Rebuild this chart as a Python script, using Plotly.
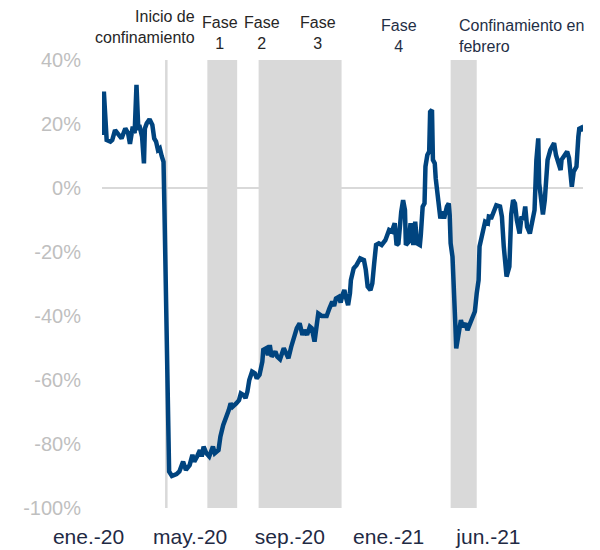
import plotly.graph_objects as go

dates = [
    "2020-01-05", "2020-01-07", "2020-01-10", "2020-01-14", "2020-01-16", "2020-01-19", "2020-01-23",
    "2020-01-26", "2020-01-30", "2020-02-02", "2020-02-04", "2020-02-07", "2020-02-09", "2020-02-11",
    "2020-02-13", "2020-02-14", "2020-02-17", "2020-02-19", "2020-02-20", "2020-02-22", "2020-02-25",
    "2020-02-28", "2020-03-01", "2020-03-03", "2020-03-05", "2020-03-07", "2020-03-09", "2020-03-11",
    "2020-03-12", "2020-03-13", "2020-03-14", "2020-03-15", "2020-03-17", "2020-03-20", "2020-03-25",
    "2020-03-28", "2020-04-01", "2020-04-04", "2020-04-08", "2020-04-11", "2020-04-13", "2020-04-16",
    "2020-04-19", "2020-04-21", "2020-04-23", "2020-04-26", "2020-04-29", "2020-05-03", "2020-05-05",
    "2020-05-09", "2020-05-11", "2020-05-14", "2020-05-17", "2020-05-20", "2020-05-22", "2020-05-24",
    "2020-05-28", "2020-05-31", "2020-06-02", "2020-06-05", "2020-06-07", "2020-06-09", "2020-06-11",
    "2020-06-14", "2020-06-17", "2020-06-19", "2020-06-22", "2020-06-25", "2020-06-26", "2020-06-29",
    "2020-07-01", "2020-07-03", "2020-07-05", "2020-07-09", "2020-07-11", "2020-07-14", "2020-07-18",
    "2020-07-21", "2020-07-23", "2020-07-26", "2020-07-29", "2020-08-01", "2020-08-04", "2020-08-07",
    "2020-08-09", "2020-08-12", "2020-08-15", "2020-08-17", "2020-08-20", "2020-08-22", "2020-08-24",
    "2020-08-28", "2020-09-02", "2020-09-05", "2020-09-08", "2020-09-10", "2020-09-12", "2020-09-15",
    "2020-09-17", "2020-09-19", "2020-09-21", "2020-09-23", "2020-09-25", "2020-09-27", "2020-09-28",
    "2020-10-01", "2020-10-04", "2020-10-08", "2020-10-12", "2020-10-14", "2020-10-16", "2020-10-19",
    "2020-10-21", "2020-10-23", "2020-10-25", "2020-10-28", "2020-10-31", "2020-11-04", "2020-11-06",
    "2020-11-08", "2020-11-11", "2020-11-14", "2020-11-16", "2020-11-18", "2020-11-21", "2020-11-23",
    "2020-11-25", "2020-11-26", "2020-11-29", "2020-12-01", "2020-12-04", "2020-12-06", "2020-12-08",
    "2020-12-11", "2020-12-12", "2020-12-14", "2020-12-16", "2020-12-17", "2020-12-19", "2020-12-21",
    "2020-12-22", "2020-12-24", "2020-12-25", "2020-12-27", "2020-12-28", "2020-12-29", "2020-12-31",
    "2021-01-02", "2021-01-04", "2021-01-06", "2021-01-09", "2021-01-11", "2021-01-12", "2021-01-13",
    "2021-01-15", "2021-01-16", "2021-01-18", "2021-01-19", "2021-01-20", "2021-01-22", "2021-01-24",
    "2021-01-26", "2021-01-29", "2021-01-31", "2021-02-03", "2021-02-06", "2021-02-08", "2021-02-10",
    "2021-02-12", "2021-02-13", "2021-02-16", "2021-02-17", "2021-02-19", "2021-02-22", "2021-02-23",
    "2021-02-26", "2021-02-28", "2021-03-03", "2021-03-07", "2021-03-09", "2021-03-11", "2021-03-13",
    "2021-03-14", "2021-03-17", "2021-03-19", "2021-03-21", "2021-03-23", "2021-03-25", "2021-03-28",
    "2021-03-30", "2021-04-01", "2021-04-03", "2021-04-05", "2021-04-08", "2021-04-11", "2021-04-13",
    "2021-04-15", "2021-04-17", "2021-04-18", "2021-04-20", "2021-04-22", "2021-04-24", "2021-04-26",
    "2021-04-27", "2021-04-30", "2021-05-03", "2021-05-04", "2021-05-06", "2021-05-09", "2021-05-11",
    "2021-05-12", "2021-05-15", "2021-05-18", "2021-05-20", "2021-05-21", "2021-05-23", "2021-05-25",
    "2021-05-28", "2021-05-30", "2021-05-31", "2021-06-02", "2021-06-03",
]

values = [
    16.6, 30.1, 15.0, 14.5, 15.0, 18.1, 16.6,
    15.5, 18.6, 17.1, 13.8, 19.2, 17.1, 32.2,
    18.1, 19.7, 16.0, 7.7, 18.6, 20.2, 21.5,
    19.7, 15.5, 14.5, 11.9, 12.4, 10.0, 8.2,
    -6.9, -27.7, -50.6, -71.5, -88.6, -90.0, -89.4,
    -88.6, -85.5, -88.1, -86.6, -83.4, -85.5, -83.9,
    -81.9, -83.9, -80.8, -82.9, -83.9, -80.8, -82.9,
    -81.9, -77.7, -74.1, -72.0, -69.4, -67.3, -68.4,
    -67.3, -66.3, -64.2, -64.7, -65.7, -63.6, -60.0,
    -57.4, -57.9, -59.5, -58.4, -54.3, -50.6, -50.1,
    -52.2, -49.1, -52.7, -51.1, -52.7, -53.5, -50.1,
    -51.6, -53.2, -49.6, -46.5, -43.8, -42.3, -45.9,
    -44.4, -45.9, -43.3, -43.8, -48.0, -43.8, -39.2,
    -40.0, -40.0, -37.6, -35.5, -36.9, -34.5, -34.0,
    -35.8, -33.4, -31.9, -34.5, -36.6, -32.9, -28.8,
    -25.1, -24.1, -22.0, -22.5, -25.6, -30.8, -31.9,
    -29.8, -23.5, -17.8, -17.3, -17.8, -16.3, -14.2,
    -13.1, -13.6, -11.0, -17.8, -17.3, -7.4, -3.8,
    -6.9, -17.8, -16.8, -11.0, -17.8, -10.5, -17.3,
    -17.8, -14.7, -5.8, -4.8, 6.7, 10.3, 11.4,
    23.8, 24.4, 8.8, 7.7, 3.0, 0.9, -5.8,
    -9.5, -7.4, -9.5, -5.8, -4.8, -8.4, -17.3,
    -21.5, -31.9, -42.3, -50.1, -48.5, -45.9, -41.3,
    -43.3, -42.3, -44.4, -42.3, -40.2, -38.6, -32.9,
    -28.8, -18.3, -14.7, -13.1, -10.5, -11.0, -8.9,
    -9.1, -7.5, -5.4, -5.8, -8.9, -18.3, -25.6,
    -27.7, -24.6, -8.3, -3.8, -4.8, -10.0, -14.2,
    -8.9, -10.0, -5.8, -12.1, -14.2, -8.9, -6.9,
    8.8, 15.5, 1.5, -3.8, -8.3, -3.8, 5.6,
    8.8, 11.9, 13.4, 14.0, 10.3, 7.7, 5.6,
    8.8, 10.3, 11.4, 9.3, 6.7, 0.4, 5.1,
    6.7, 16.0, 18.5, 18.8, 17.6,
]

# Periods (shaded) and event line
lockdown_start = "2020-03-14"
shaded_periods = [("2020-04-27", "2020-05-29"), ("2020-06-21", "2020-09-18"), ("2021-01-13", "2021-02-10")]

# X tick labels (evenly spaced as in the original)
tick_dates = ["2020-01-12", "2020-04-30", "2020-08-15", "2020-11-29", "2021-03-16"]
tick_labels = ["ene.-20", "may.-20", "sep.-20", "ene.-21", "jun.-21"]

y_ticks = [-100, -80, -60, -40, -20, 0, 20, 40]
y_labels = ["-100%", "-80%", "-60%", "-40%", "-20%", "0%", "20%", "40%"]

# Annotation texts and anchor dates
annotations_spec = [
    ("Inicio de<br>confinamiento", "2020-04-16", "right", "right", 1.073, "#262626"),
    ("Fase<br>1", "2020-05-11", "center", "center", 1.060, "#262626"),
    ("Fase<br>2", "2020-06-25", "center", "center", 1.060, "#262626"),
    ("Fase<br>3", "2020-08-24", "center", "center", 1.060, "#262626"),
    ("Fase<br>4", "2020-11-19", "center", "center", 1.054, "#1F2F46"),
    ("Confinamiento en<br>febrero", "2021-01-20", "left", "left", 1.054, "#1F2F46"),
]

FONT = "Liberation Sans, Arial, sans-serif"

fig = go.Figure()
for x0, x1 in shaded_periods:
    fig.add_vrect(x0=x0, x1=x1, fillcolor="#D9D9D9", opacity=1, line_width=0, layer="below")
fig.add_vline(x=lockdown_start, line_color="#D9D9D9", line_width=2.5, layer="below")

fig.add_trace(go.Scatter(
    x=dates, y=values, mode="lines",
    line=dict(color="#00447F", width=4.5),
    showlegend=False, hoverinfo="x+y",
))

for text, xd, xanchor, align, ypaper, color in annotations_spec:
    fig.add_annotation(
        text=text, x=xd, xref="x", y=ypaper, yref="paper",
        xanchor=xanchor, yanchor="middle", align=align, showarrow=False,
        font=dict(family=FONT, size=16, color=color),
    )

fig.update_layout(
    width=600, height=550,
    margin=dict(l=94, r=25, t=52, b=50, autoexpand=False),
    paper_bgcolor="white", plot_bgcolor="white",
    font=dict(family=FONT),
    showlegend=False,
)
fig.update_xaxes(
    type="date",
    range=["2020-01-05", "2021-06-04"],
    showgrid=False, zeroline=False, showline=False, ticks="",
    tickmode="array", tickvals=tick_dates, ticktext=tick_labels,
    tickfont=dict(family=FONT, size=21, color="#1F2A44"),
    ticklabelshift=-20, ticklabelstandoff=14, automargin=False,
)
fig.update_yaxes(
    range=[-100, 40],
    tickmode="array", tickvals=y_ticks, ticktext=y_labels,
    showgrid=False, zeroline=True, zerolinecolor="#D9D9D9", zerolinewidth=2,
    showline=False, ticks="",
    tickfont=dict(family=FONT, size=20, color="#BFBFBF"),
    ticklabelstandoff=20, automargin=False,
)

fig.write_html("out.html")
